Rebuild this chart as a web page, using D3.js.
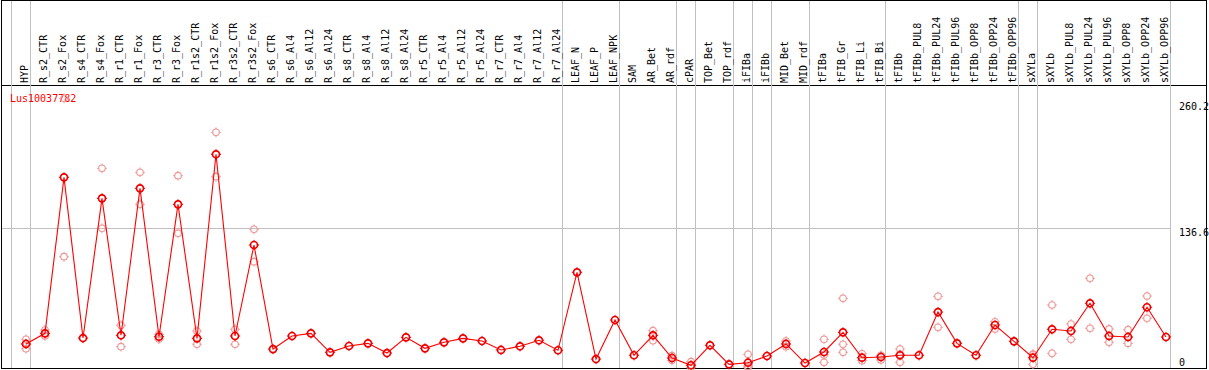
<!DOCTYPE html>
<html><head><meta charset="utf-8">
<script src="https://cdn.jsdelivr.net/npm/d3@7"></script>
<style>
html,body{margin:0;padding:0;background:#fff;}
svg{display:block;}
text{font-family:"DejaVu Sans Mono",monospace;font-size:10px;}
</style></head>
<body>
<svg id="chart" width="1209" height="370"></svg>
<script>
const categories = ["HYP","R_s2_CTR","R_s2_Fox","R_s4_CTR","R_s4_Fox","R_r1_CTR","R_r1_Fox","R_r3_CTR","R_r3_Fox","R_r1s2_CTR","R_r1s2_Fox","R_r3s2_CTR","R_r3s2_Fox","R_s6_CTR","R_s6_Al4","R_s6_Al12","R_s6_Al24","R_s8_CTR","R_s8_Al4","R_s8_Al12","R_s8_Al24","R_r5_CTR","R_r5_Al4","R_r5_Al12","R_r5_Al24","R_r7_CTR","R_r7_Al4","R_r7_Al12","R_r7_Al24","LEAF_N","LEAF_P","LEAF_NPK","SAM","AR_Bet","AR_rdf","cPAR","TOP_Bet","TOP_rdf","iFIBa","iFIBb","MID_Bet","MID_rdf","tFIBa","tFIB_Gr","tFIB_Li","tFIB_Bi","tFIBb","tFIBb_PUL8","tFIBb_PUL24","tFIBb_PUL96","tFIBb_OPP8","tFIBb_OPP24","tFIBb_OPP96","sXYLa","sXYLb","sXYLb_PUL8","sXYLb_PUL24","sXYLb_PUL96","sXYLb_OPP8","sXYLb_OPP24","sXYLb_OPP96"];

const meanValues = [23.2,33.6,186.7,29.0,166.1,31.7,175.9,30.3,160.2,28.7,209.3,31.0,120.3,18.2,31.0,33.6,15.0,21.2,23.8,14.3,29.7,18.9,24.8,28.7,26.1,17.3,20.9,26.8,17.0,93.5,8.4,46.7,12.1,31.7,9.4,2.3,21.9,3.2,4.8,11.4,23.2,4.5,15.3,34.6,9.7,10.4,12.1,12.1,54.5,23.8,12.1,41.8,25.8,9.7,37.6,35.9,63.1,31.0,30.0,59.2,30.0];

const rep1 = [27.8,36.9,264.2,null,195.5,41.5,191.6,32.6,188.3,35.9,230.8,37.6,135.7,null,null,null,null,null,null,null,null,null,null,null,null,null,null,null,null,null,null,null,null,36.2,11.7,5.8,null,null,13.0,null,26.1,null,27.8,68.0,13.6,12.1,18.2,null,69.9,null,null,45.0,null,13.3,61.4,42.8,87.6,37.9,37.2,70.2,null];
const rep2 = [18.5,31.0,108.8,null,136.7,20.5,160.2,28.0,131.8,22.9,187.3,22.9,103.9,null,null,null,null,null,null,null,null,null,null,null,null,null,null,null,null,null,null,null,null,26.4,7.1,0.0,null,null,0.0,null,20.5,null,12.4,22.9,6.8,7.5,5.2,null,39.5,null,null,37.9,null,3.2,14.0,27.8,38.6,24.8,23.8,48.4,null];
const rep3 = [23.3,null,null,null,null,null,null,null,null,null,null,null,null,null,null,null,null,null,null,null,null,null,null,null,null,null,null,null,null,null,null,null,null,null,null,null,null,null,1.4,null,null,null,5.2,15.0,null,null,12.9,null,null,null,null,null,null,12.6,null,null,null,null,null,null,null];

const groupEnds = ["HYP","R_r7_Al24","LEAF_NPK","AR_rdf","cPAR","TOP_rdf","iFIBa","iFIBb","MID_rdf","tFIB_Bi","tFIBb_OPP96","sXYLa","sXYLb_OPP96"];
const yTickValues = [260.2, 136.6, 0];
const yGridValues = [136.6];
const geneName = "Lus10037782";

const W = 1209, H = 370;
const svg = d3.select("#chart");
const x = d3.scalePoint().domain(categories).range([26, 1166]);
const step = x.step();
const y = d3.scaleLinear().domain([0, 260.2]).range([367.6, 102.4]);

const gridColor = "#c0c0c0";
// frame
svg.append("rect").attr("x",1.5).attr("y",0.5).attr("width",1205).attr("height",367.5)
  .attr("fill","none").attr("stroke","#000").attr("stroke-width",1).attr("shape-rendering","crispEdges");
// header separator
svg.append("line").attr("x1",1).attr("x2",1207).attr("y1",85.5).attr("y2",85.5)
  .attr("stroke","#000").attr("shape-rendering","crispEdges");

// vertical group separators
const sepX = [x(categories[0]) - step + 4.5].concat(groupEnds.map(c => x(c) + 4.5));
svg.append("g").selectAll("line").data(sepX).join("line")
  .attr("x1", d => Math.floor(d)+0.5).attr("x2", d => Math.floor(d)+0.5)
  .attr("y1", 1).attr("y2", 368)
  .attr("stroke", gridColor).attr("shape-rendering","crispEdges");

// horizontal grid
svg.append("g").selectAll("line").data(yGridValues).join("line")
  .attr("x1", 2).attr("x2", x(categories[categories.length-1]) + 4.5)
  .attr("y1", d => Math.round(y(d))+0.5).attr("y2", d => Math.round(y(d))+0.5)
  .attr("stroke", gridColor).attr("shape-rendering","crispEdges");

// category labels
svg.append("g").selectAll("text").data(categories).join("text")
  .attr("transform", d => `translate(${x(d)+2},83) rotate(-90)`)
  .attr("fill","#000")
  .text(d => d);

// y tick labels
const labelY = {"260.2": y(260.2)+8, "136.6": y(136.6)+8, "0": 366};
svg.append("g").selectAll("text").data(yTickValues).join("text")
  .attr("x", 1179).attr("y", d => labelY[String(d)])
  .attr("fill","#000")
  .text(d => String(d));

// gene name
svg.append("text").attr("x",10).attr("y",102).attr("fill","#ff0000").text(geneName);

function marker(g, cx, cy, r, color, sw) {
  g.append("circle").attr("cx",cx).attr("cy",cy).attr("r",r)
    .attr("fill","none").attr("stroke",color).attr("stroke-width",sw);
  const t = r + 1.6;
  [[0,-1],[0,1],[-1,0],[1,0]].forEach(([dx,dy]) => {
    g.append("line").attr("x1",cx+dx*(r-0.5)).attr("y1",cy+dy*(r-0.5))
      .attr("x2",cx+dx*t).attr("y2",cy+dy*t)
      .attr("stroke",color).attr("stroke-width",1);
  });
}

// replicate points
const pink = "#ee9999";
const gRep = svg.append("g");
[rep1, rep2, rep3].forEach(arr => {
  arr.forEach((v,i) => {
    if (v === null) return;
    marker(gRep, x(categories[i]), y(v), 3.3, pink, 1.1);
  });
});

// mean line
const line = d3.line().x((d,i) => x(categories[i])).y(d => y(d));
svg.append("path").datum(meanValues).attr("d", line)
  .attr("fill","none").attr("stroke","#ff0000").attr("stroke-width",1.1);

// mean markers
const gMean = svg.append("g");
meanValues.forEach((v,i) => marker(gMean, x(categories[i]), y(v), 3.5, "#ee0000", 1.7));
</script>
</body></html>
